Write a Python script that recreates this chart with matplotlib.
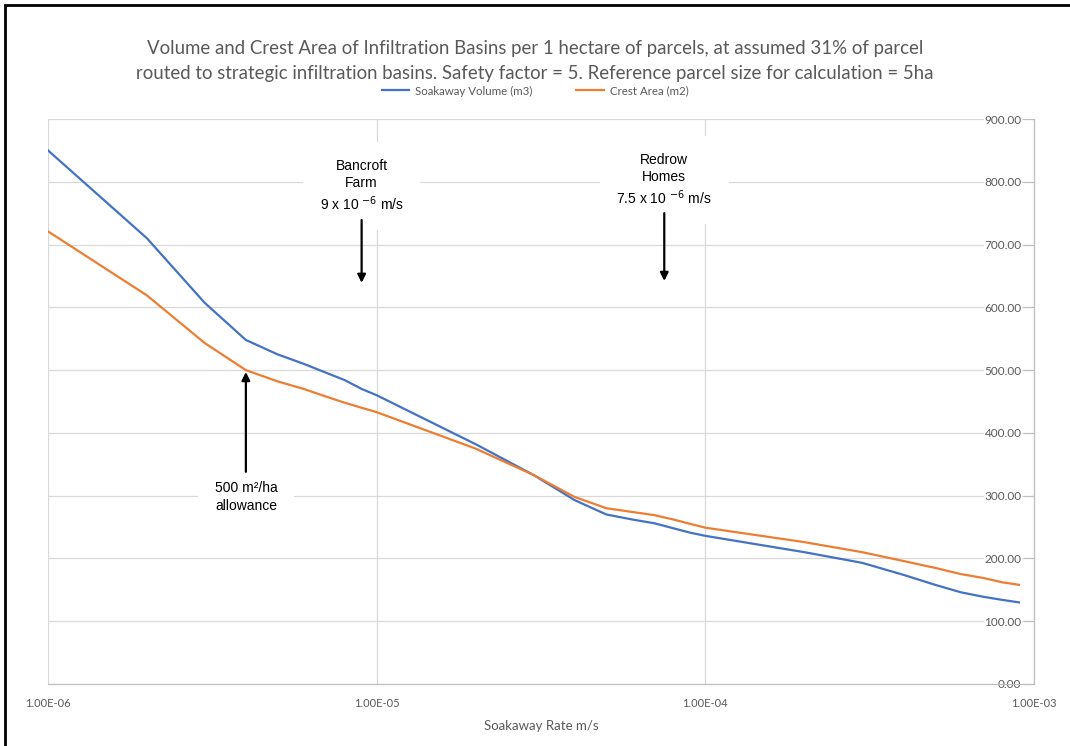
import matplotlib
matplotlib.use("Agg")
import matplotlib.pyplot as plt
from matplotlib.patches import Rectangle
from matplotlib.ticker import FixedLocator, NullLocator

rates = [1e-6, 2e-6, 3e-6, 4e-6, 5e-6, 6e-6, 7e-6, 8e-6, 9e-6,
         1e-5, 2e-5, 3e-5, 4e-5, 5e-5, 6e-5, 7e-5, 8e-5, 9e-5,
         1e-4, 2e-4, 3e-4, 4e-4, 5e-4, 6e-4, 7e-4, 8e-4, 9e-4]
volume = [850, 710, 607, 548, 525, 510, 496, 484, 470,
          460, 382, 333, 293, 270, 262, 256, 248, 241,
          236, 210, 193, 174, 158, 146, 139, 134, 130]
crest = [721, 619, 543, 500, 482, 470, 458, 448, 440,
         433, 375, 333, 298, 280, 274, 269, 262, 255,
         249, 226, 210, 196, 185, 175, 169, 162, 158]

x_ticks = [1e-6, 1e-5, 1e-4, 1e-3]
x_labels = ["1.00E-06", "1.00E-05", "1.00E-04", "1.00E-03"]
y_ticks = [0, 100, 200, 300, 400, 500, 600, 700, 800, 900]

title = ("Volume and Crest Area of Infiltration Basins per 1 hectare of parcels, at assumed 31% of parcel\n"
         "routed to strategic infiltration basins. Safety factor = 5. Reference parcel size for calculation = 5ha")

GREY = "#595959"
GRID = "#d9d9d9"
NARROW = ["Lato", "DejaVu Sans"]
plt.rcParams["font.family"] = ["Liberation Sans", "DejaVu Sans"]

fig = plt.figure(figsize=(10.7, 7.46), dpi=100)
ax = fig.add_axes([48 / 1070, 1 - 684 / 746, (1034 - 48) / 1070, (684 - 119) / 746])

ax.plot(rates, volume, color="#4472C4", lw=1.6, label="Soakaway Volume (m3)")
ax.plot(rates, crest, color="#ED7D31", lw=1.6, label="Crest Area (m2)")

ax.set_xscale("log")
ax.set_xlim(1e-6, 1e-3)
ax.set_ylim(0, 900)
ax.xaxis.set_major_locator(FixedLocator(x_ticks))
ax.xaxis.set_minor_locator(NullLocator())
ax.set_xticklabels(x_labels, family=NARROW, fontsize=8, color=GREY)
ax.set_yticks(y_ticks)
ax.set_yticklabels([f"{v:.2f}" for v in y_ticks], family=NARROW, fontsize=8.5, color=GREY)
ax.yaxis.tick_right()
ax.tick_params(axis="y", direction="in", length=8, width=0.8, color="#bfbfbf", pad=-9)
ax.tick_params(axis="x", length=0, pad=10)
for lbl in ax.get_yticklabels():
    lbl.set_horizontalalignment("right")
    lbl.set_bbox(dict(facecolor="white", edgecolor="none", pad=0.5))
ax.grid(True, color=GRID, lw=0.9)
for side in ["top", "left"]:
    ax.spines[side].set_visible(False)
for side in ["bottom", "right"]:
    ax.spines[side].set_color("#bfbfbf")
    ax.spines[side].set_linewidth(0.9)

ax.set_xlabel("Soakaway Rate m/s", family=NARROW, fontsize=9.5, color=GREY, labelpad=8)
fig.text(0.5, 1 - 61 / 746, title, ha="center", va="center", family=NARROW,
         fontsize=13.4, color=GREY, linespacing=1.6)
fig.legend(loc="center", bbox_to_anchor=(0.5, 1 - 91 / 746), ncol=2, frameon=False,
           prop={"family": NARROW, "size": 8.3}, labelcolor=GREY, handlelength=2.4,
           columnspacing=3.8, handletextpad=0.5)

box = dict(boxstyle="square,pad=1.2", facecolor="white", edgecolor="none")
arrow = dict(arrowstyle="-|>", color="black", lw=1.6, mutation_scale=12, shrinkA=0, shrinkB=0)

ax.text(9e-6, 793, "Bancroft\nFarm\n9 x 10 $^{-6}$ m/s", ha="center", va="center",
        fontsize=10, bbox=box, linespacing=1.3)
ax.annotate("", xy=(9e-6, 639), xytext=(9e-6, 739), arrowprops=arrow)

ax.text(7.5e-5, 803, "Redrow\nHomes\n7.5 x 10 $^{-6}$ m/s", ha="center", va="center",
        fontsize=10, bbox=box, linespacing=1.3)
ax.annotate("", xy=(7.5e-5, 642), xytext=(7.5e-5, 750), arrowprops=arrow)

ax.text(4e-6, 298, "500 m\u00b2/ha\nallowance", ha="center", va="center",
        fontsize=10, bbox=box, linespacing=1.3)
ax.annotate("", xy=(4e-6, 497), xytext=(4e-6, 338), arrowprops=arrow)

fig.add_artist(Rectangle((5 / 1070, -0.1), 1.2, 1.1 - 5 / 746, transform=fig.transFigure,
                         fill=False, edgecolor="black", lw=2))

fig.savefig("out.png", dpi=100)
